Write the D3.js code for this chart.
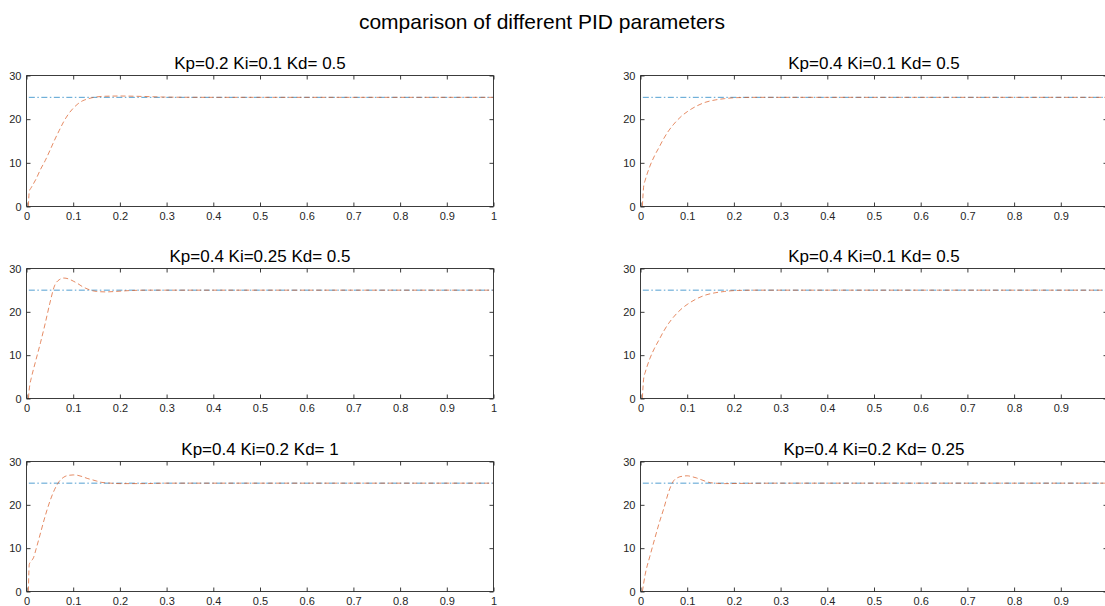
<!DOCTYPE html>
<html><head><meta charset="utf-8">
<script src="https://cdn.jsdelivr.net/npm/d3@7"></script>
<style>body{margin:0;background:#fff}svg{display:block;font-family:"Liberation Sans",Arial,sans-serif}</style>
</head><body><svg id="c" width="1105" height="606"></svg>
<script>
const mainTitle = "comparison of different PID parameters";
const titles = ["Kp=0.2 Ki=0.1 Kd= 0.5","Kp=0.4 Ki=0.1 Kd= 0.5","Kp=0.4 Ki=0.25 Kd= 0.5","Kp=0.4 Ki=0.1 Kd= 0.5","Kp=0.4 Ki=0.2 Kd= 1","Kp=0.4 Ki=0.2 Kd= 0.25"];
const xTicks = [0,0.1,0.2,0.3,0.4,0.5,0.6,0.7,0.8,0.9,1];
const xTicksRight = [0,0.1,0.2,0.3,0.4,0.5,0.6,0.7,0.8,0.9];
const yTicks = [0,10,20,30];
const setpoint = 25;
const setpointT = [0.005, 1];
// response curves [t, value]
const resp1 = [[0.004,0],[0.006,3.5],[0.01,4.3],[0.02,6.2],[0.03,8.5],[0.04,10.5],[0.05,12.8],[0.06,15.2],[0.07,17.4],[0.08,19.5],[0.09,21.2],[0.1,22.5],[0.11,23.5],[0.12,24.2],[0.13,24.6],[0.14,24.9],[0.15,25.1],[0.17,25.25],[0.2,25.3],[0.25,25.2],[0.3,25.05],[0.4,25.0],[1,25]];
const resp2 = [[0.004,0],[0.007,4.8],[0.01,6.0],[0.02,9.2],[0.03,11.6],[0.04,13.6],[0.05,15.6],[0.06,17.3],[0.07,18.7],[0.08,19.9],[0.09,20.9],[0.1,21.7],[0.11,22.4],[0.12,23.0],[0.14,23.9],[0.16,24.4],[0.18,24.7],[0.2,24.9],[0.25,25.0],[1,25]];
const resp3 = [[0.004,0],[0.007,3.1],[0.01,4.6],[0.02,8.8],[0.03,12.9],[0.04,17.3],[0.05,22.0],[0.06,26.0],[0.07,27.4],[0.08,27.8],[0.09,27.6],[0.1,27.1],[0.11,26.5],[0.12,25.8],[0.13,25.3],[0.14,24.9],[0.15,24.7],[0.17,24.6],[0.19,24.7],[0.22,24.9],[0.26,25.0],[1,25]];
const resp4 = [[0.004,0],[0.007,4.8],[0.01,6.0],[0.02,9.2],[0.03,11.6],[0.04,13.6],[0.05,15.6],[0.06,17.3],[0.07,18.7],[0.08,19.9],[0.09,20.9],[0.1,21.7],[0.11,22.4],[0.12,23.0],[0.14,23.9],[0.16,24.4],[0.18,24.7],[0.2,24.9],[0.25,25.0],[1,25]];
const resp5 = [[0.004,0],[0.006,6.3],[0.01,7.0],[0.015,7.8],[0.02,9.6],[0.03,13.5],[0.04,17.4],[0.05,20.8],[0.06,23.5],[0.07,25.4],[0.08,26.4],[0.09,26.8],[0.1,26.9],[0.11,26.8],[0.12,26.5],[0.13,26.1],[0.14,25.8],[0.15,25.5],[0.16,25.2],[0.18,25.0],[0.2,24.9],[0.25,24.9],[0.3,25.0],[1,25]];
const resp6 = [[0.004,0],[0.01,3.9],[0.02,8.1],[0.03,12.0],[0.04,15.8],[0.05,19.2],[0.06,22.9],[0.07,25.4],[0.08,26.3],[0.09,26.6],[0.1,26.7],[0.11,26.5],[0.12,26.2],[0.13,25.8],[0.14,25.4],[0.15,25.1],[0.16,25.0],[0.18,24.9],[0.22,24.95],[0.3,25],[1,25]];
const responses = [resp1,resp2,resp3,resp4,resp5,resp6];

const svg = d3.select("#c");
const axCol = "#262626";
const colLeft = [26.5, 493.5], colRight = [640.5, 1107.5];
const rows = [[75.5, 206.5],[268.5, 398.5],[461.5, 591.5]];

svg.append("text").attr("x",542).attr("y",29).attr("text-anchor","middle")
  .attr("font-size",21).attr("fill","#000").text(mainTitle);

titles.forEach((t,i)=>{
  const r = Math.floor(i/2), c = i%2;
  const xr = c===0?colLeft:colRight, yr = rows[r];
  const x = d3.scaleLinear().domain([0,1]).range(xr);
  const y = d3.scaleLinear().domain([0,30]).range([yr[1],yr[0]]);
  const g = svg.append("g");
  g.append("text").attr("x",(colLeft[0]+colLeft[1])/2 + (c===0?0:614)).attr("y",yr[0]-7)
    .attr("text-anchor","middle").attr("font-size",17).attr("fill","#000").text(t);
  // setpoint
  const line = d3.line().x(d=>x(d[0])).y(d=>y(d[1]));
  g.append("path").datum(setpointT.map(tt=>[tt,setpoint])).attr("d",line)
    .attr("fill","none").attr("stroke","#0072BD").attr("stroke-width",0.8)
    .attr("stroke-dasharray","6,2.5,1.5,2.5").attr("opacity",0.85);
  g.append("path").datum(responses[i]).attr("d",d3.line().x(d=>x(d[0])).y(d=>y(d[1])).curve(d3.curveMonotoneX))
    .attr("fill","none").attr("stroke","#D95319").attr("stroke-width",0.8)
    .attr("stroke-dasharray","5,3").attr("opacity",0.85);
  // axes
  const tv = c===0?xTicks:xTicksRight;
  const bottom = g.append("g").attr("transform",`translate(0,${yr[1]})`)
    .call(d3.axisBottom(x).tickValues(tv).tickSize(-4).tickPadding(6).tickFormat(d3.format("")));
  const top = g.append("g").attr("transform",`translate(0,${yr[0]})`)
    .call(d3.axisTop(x).tickValues(tv).tickSize(-4).tickFormat(""));
  const left = g.append("g").attr("transform",`translate(${xr[0]},0)`)
    .call(d3.axisLeft(y).tickValues(yTicks).tickSize(-4).tickPadding(5));
  const right = g.append("g").attr("transform",`translate(${xr[1]},0)`)
    .call(d3.axisRight(y).tickValues(yTicks).tickSize(-4).tickFormat(""));
  [bottom,top,left,right].forEach(a=>{
    a.selectAll("path").attr("stroke",axCol).attr("stroke-width",0.9);
    a.selectAll("line").attr("stroke",axCol).attr("stroke-width",0.9);
    a.selectAll("text").attr("fill",axCol).attr("font-size",11).attr("font-family","Liberation Sans, Arial, sans-serif");
  });
  bottom.selectAll("path").attr("d",`M${xr[0]},0H${xr[1]}`);
  top.selectAll("path").attr("d",`M${xr[0]},0H${xr[1]}`);
  left.selectAll("path").attr("d",`M0,${yr[0]}V${yr[1]}`);
  right.selectAll("path").attr("d",`M0,${yr[0]}V${yr[1]}`);
});
</script></body></html>
